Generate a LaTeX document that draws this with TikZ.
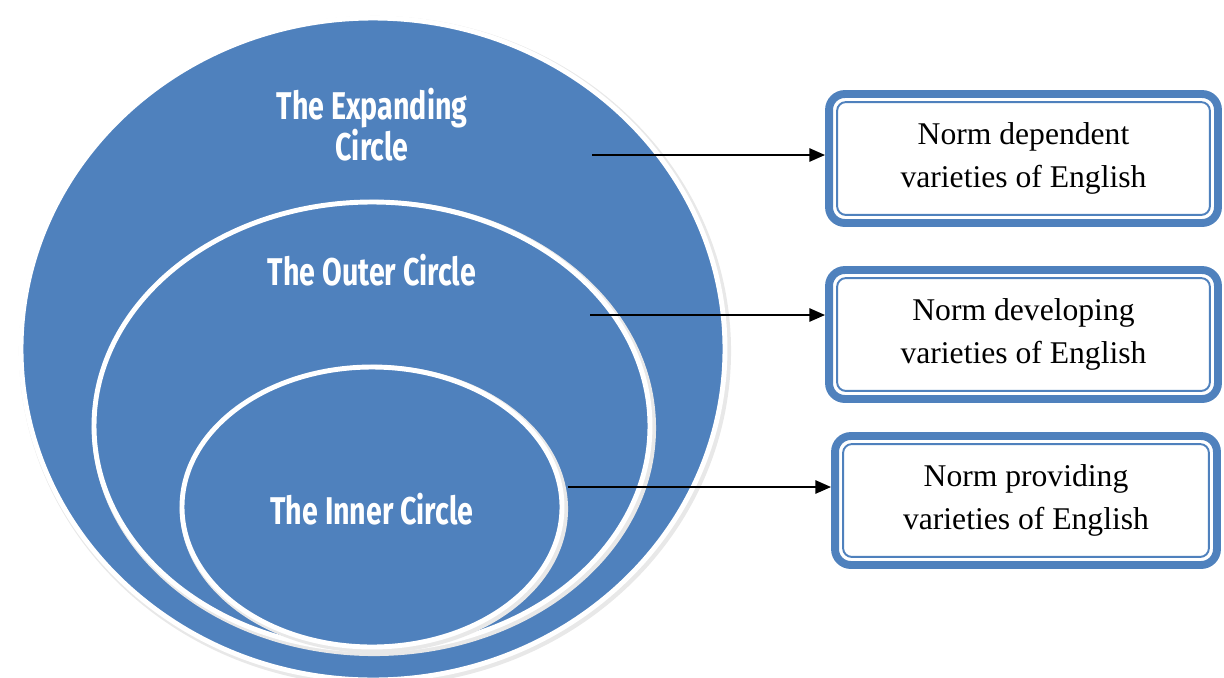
\documentclass[tikz,border=0pt]{standalone}
\usepackage{fontspec}
\setmainfont{Liberation Serif}
\newfontfamily\circfont[FakeStretch=0.74]{Fira Sans}
\usetikzlibrary{arrows.meta,positioning,calc}
\definecolor{ringblue}{RGB}{79,129,189}

\tikzset{
  ring/.style={fill=ringblue,draw=white,line width=2.8pt},
  ringshadow/.style={draw=black!9,line width=4.6pt},
  ringlabel/.style={text=white,align=center,font=\circfont\bfseries\fontsize{22}{23.5}\selectfont},
  normbox/.style={draw=ringblue,fill=white,line width=4.5pt,rounded corners=9pt,
    minimum width=7.78cm,minimum height=2.58cm,align=center,
    font=\fontsize{18}{24.4}\selectfont},
  innerline/.style={draw=ringblue,line width=1.1pt,rounded corners=5pt},
  link/.style={-{Triangle[length=9pt,width=7.5pt]},line width=1.4pt}
}

\begin{document}
\begin{tikzpicture}[x=0.02cm,y=-0.02cm]
  \useasboundingbox (0,0) rectangle (1224,677);
  \clip (0,0) rectangle (1224,677);

  % the three circles
  \draw[ringshadow] (375,351) ellipse [x radius=352,y radius=331];
  \draw[ring] (373,349) ellipse [x radius=352,y radius=331];
  \draw[ringshadow] (374,428) ellipse [x radius=278,y radius=224];
  \draw[ring] (372,426) ellipse [x radius=278,y radius=224];
  \draw[ringshadow] (374,509) ellipse [x radius=190,y radius=140];
  \draw[ring] (372,507) ellipse [x radius=190,y radius=140];

  \node[ringlabel] (expand) at (372,125) {The Expanding\\Circle};
  \node[ringlabel] (outer) at (372,270) {The Outer Circle};
  \node[ringlabel] (inner) at (372,509) {The Inner Circle};

  % the norm boxes
  \node[normbox] (dep) at (1023.5,158.5) {Norm dependent\\varieties of English};
  \node[normbox] (dev) at (1023.5,334.5) {Norm developing\\varieties of English};
  \node[normbox,minimum width=7.64cm] (prov) at (1026,500.5) {Norm providing\\varieties of English};
  \foreach \bx in {dep,dev,prov}
    \draw[innerline] ($(\bx.north west)+(12,12)$) rectangle ($(\bx.south east)+(-12,-12)$);

  \coordinate (e1) at (592,155);
  \coordinate (e2) at (590,315);
  \coordinate (e3) at (568,487);
  \draw[link] (e1) -- (e1 -| dep.west);
  \draw[link] (e2) -- (e2 -| dev.west);
  \draw[link] (e3) -- (e3 -| prov.west);
\end{tikzpicture}
\end{document}
